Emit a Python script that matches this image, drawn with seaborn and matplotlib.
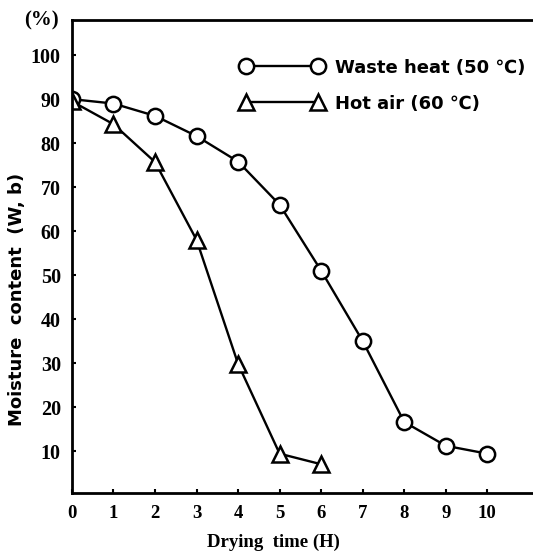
import matplotlib
matplotlib.use("Agg")
import matplotlib.pyplot as plt
import seaborn as sns
import pandas as pd

hours_waste = [0, 1, 2, 3, 4, 5, 6, 7, 8, 9, 10]
waste_heat = [90, 89, 86.2, 81.6, 75.8, 66, 51, 35, 16.6, 11.2, 9.4]
hours_hot = [0, 1, 2, 3, 4, 5, 6]
hot_air = [89.5, 84.3, 75.7, 58, 29.8, 9.4, 7]
x_ticks = [0, 1, 2, 3, 4, 5, 6, 7, 8, 9, 10]
y_ticks = [10, 20, 30, 40, 50, 60, 70, 80, 90, 100]

label_waste = "Waste heat (50 ℃)"
label_hot = "Hot air (60 ℃)"

df = pd.concat([
    pd.DataFrame({"t": hours_waste, "m": waste_heat, "s": label_waste}),
    pd.DataFrame({"t": hours_hot, "m": hot_air, "s": label_hot}),
])

sns.set_theme(style="ticks")
plt.rcParams['font.family'] = ['Liberation Serif', 'DejaVu Sans']
plt.rcParams['font.weight'] = 'bold'
plt.rcParams['text.color'] = 'black'
plt.rcParams['axes.labelcolor'] = 'black'
plt.rcParams['xtick.color'] = 'black'
plt.rcParams['ytick.color'] = 'black'
plt.rcParams['axes.edgecolor'] = 'black'

fig = plt.figure(figsize=(5.33, 5.55), dpi=100)
ax = fig.add_axes([0.135, 0.112, 0.865, 0.852])

sns.lineplot(data=df, x="t", y="m", hue="s", style="s",
             palette=["black", "black"], markers={label_waste: "o", label_hot: "^"},
             dashes=False, markersize=11, markerfacecolor="white",
             markeredgecolor="black", markeredgewidth=1.8, linewidth=1.7,
             ax=ax, sort=False)

ax.set_xlim(0, 11.1)
ax.set_ylim(0.5, 108)
ax.set_xticks(x_ticks)
ax.set_yticks(y_ticks)
ax.tick_params(direction="in", length=3, width=1.5, labelsize=13.5)
ax.tick_params(axis="y", pad=8, labelsize=14.5)
ax.tick_params(axis="x", pad=9)
for lab in ax.get_xticklabels() + ax.get_yticklabels():
    lab.set_fontweight("bold")
for s in ["left", "bottom", "top"]:
    ax.spines[s].set_linewidth(2)
ax.spines["right"].set_visible(False)

ax.set_xlabel("Drying  time (H)", fontsize=13.5, fontweight="bold")
ax.xaxis.set_label_coords(0.436, -0.086)
ax.set_ylabel("Moisture  content  (W, b)", fontsize=13, fontweight="bold",
              family=["DejaVu Sans"])
ax.yaxis.set_label_coords(-0.1, 0.41)
fig.text(0.045, 0.963, "(%)", fontsize=15, fontweight="bold", va="center")

leg = ax.legend(loc="upper left", bbox_to_anchor=(0.366, 0.918), frameon=False,
                numpoints=2, handlelength=4.6, handletextpad=0.6, fontsize=13,
                title=None, labelspacing=1.0, borderpad=0, borderaxespad=0)
for t in leg.get_texts():
    t.set_fontweight("bold")
    t.set_family(["DejaVu Sans"])

fig.savefig("out.png", dpi=100)
